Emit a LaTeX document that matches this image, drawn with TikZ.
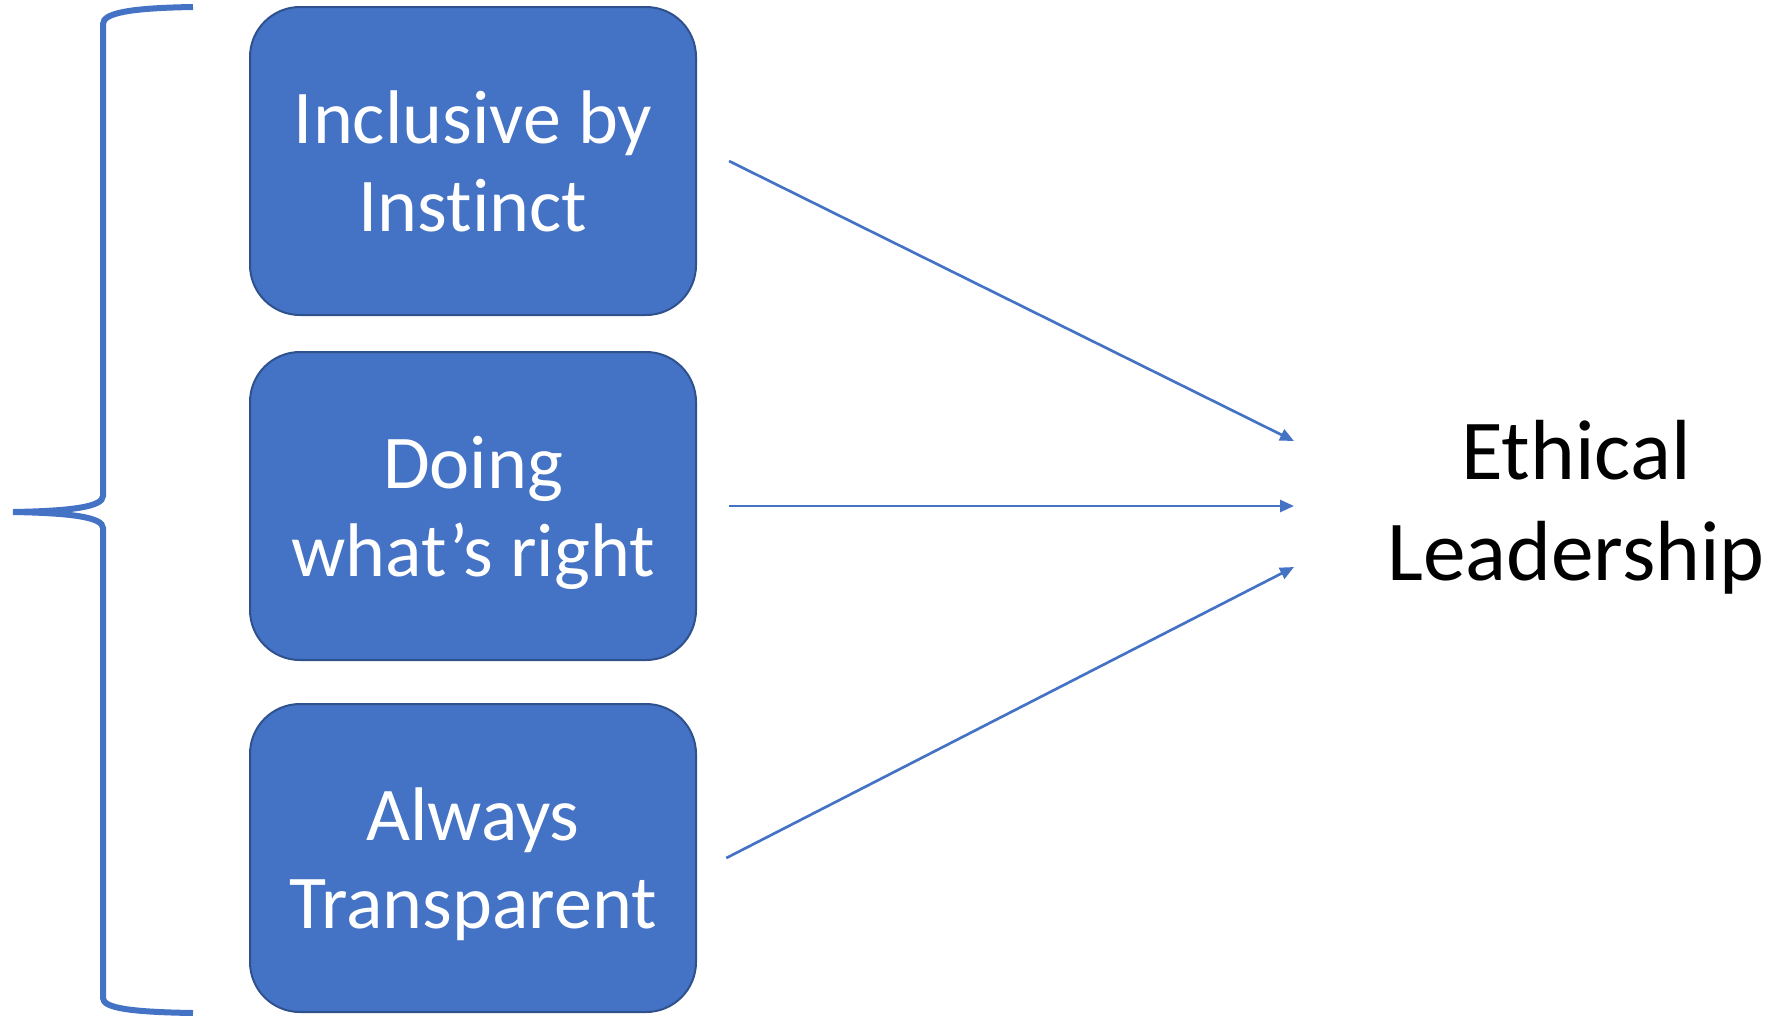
\documentclass[tikz,border=0pt]{standalone}
\usepackage{fontspec}
\setmainfont[Ligatures={NoCommon}]{Carlito}
\usetikzlibrary{arrows.meta}
\definecolor{officeblue}{HTML}{4472C4}
\definecolor{boxborder}{HTML}{2F528F}
\tikzset{
  pillbox/.style={draw=boxborder, line width=1.5pt, fill=officeblue, rounded corners=37.5pt,
    minimum width=334.5pt, minimum height=231pt, text=white, align=center,
    font=\fontsize{57}{66}\selectfont, inner sep=0pt, text depth=0pt},
  linkarrow/.style={draw=officeblue, line width=2pt, -{Triangle[length=10.5pt,width=9pt]}},
  bracestyle/.style={draw=officeblue, line width=4.5pt},
  goaltext/.style={align=center, font=\fontsize{64}{76}\selectfont, inner sep=0pt}
}
\begin{document}
\begin{tikzpicture}[x=0.75pt,y=-0.75pt]
\useasboundingbox (0,0) rectangle (1783,1015);
% brace
\draw[bracestyle] (193,7) .. controls (130,8) and (103,13) .. (103,24)
  -- (103,496) .. controls (103,507) and (70,511) .. (13,512)
  .. controls (70,513) and (103,517) .. (103,528)
  -- (103,998) .. controls (103,1008) and (130,1012) .. (193,1013);
% boxes
\node[pillbox] (b1) at (473,161) {Inclusive by\\Instinct};
\node[pillbox] (b2) at (473,506) {Doing\\what’s right};
\node[pillbox] (b3) at (473,858) {Always\\Transparent};
% goal
\node[goaltext] (el) at (1576,507) {Ethical\\Leadership};
\coordinate (t1) at (1294,441);
\coordinate (t2) at (1294,506);
\coordinate (t3) at (1294,567);
% arrows
\draw[linkarrow] ([xshift=24pt]b1.east) -- (t1);
\draw[linkarrow] ([xshift=24pt]b2.east) -- (t2);
\draw[linkarrow] ([xshift=22pt]b3.east) -- (t3);
\end{tikzpicture}
\end{document}
